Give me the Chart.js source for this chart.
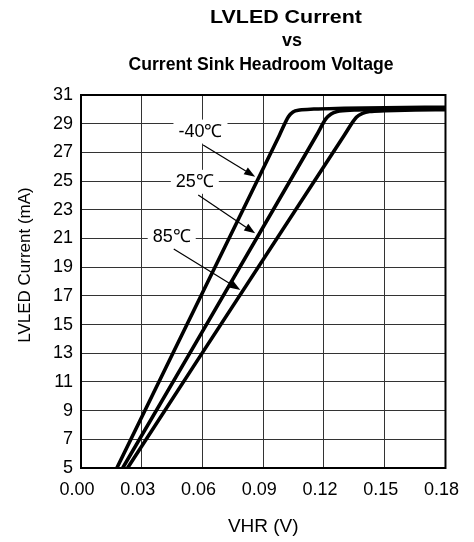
<!DOCTYPE html>
<html>
<head>
<meta charset="utf-8">
<script src="https://cdn.jsdelivr.net/npm/chart.js@4"></script>
<style>
  html, body { margin: 0; padding: 0; background: #fff; }
  #wrap { width: 474px; height: 542px; }
</style>
</head>
<body>
<div id="wrap"><canvas id="chart_lvled"></canvas></div>
<script>
// values (VHR in V, current in mA)
var vhr_m40 = [0.0177, 0.0980, 0.1025, 0.1047, 0.1080, 0.1150, 0.1300, 0.1500, 0.1800];
var ma_m40  = [5.00, 28.20, 29.50, 29.82, 29.95, 30.02, 30.07, 30.11, 30.15];

var vhr_25 = [0.0206, 0.1164, 0.1210, 0.1235, 0.1265, 0.1350, 0.1500, 0.1800];
var ma_25  = [5.00, 28.21, 29.35, 29.68, 29.85, 29.95, 30.00, 30.08];

var vhr_85 = [0.0230, 0.1301, 0.1360, 0.1390, 0.1425, 0.1500, 0.1650, 0.1800];
var ma_85  = [5.00, 28.21, 29.45, 29.72, 29.85, 29.90, 29.95, 29.98];

var seriesNames = ['-40℃', '25℃', '85℃'];

var xTicks = [0, 0.03, 0.06, 0.09, 0.12, 0.15, 0.18];
var yTicks = [5, 7, 9, 11, 13, 15, 17, 19, 21, 23, 25, 27, 29, 31];

var FONT = 'Liberation Sans, Arial, Helvetica, sans-serif';

function pts(xs, ys) {
    var out = [];
    for (var i = 0; i < xs.length; i++) out.push({x: xs[i], y: ys[i]});
    return out;
}

// callouts, in data units: label centre, arrow start, arrow tip
var notes = [
    {text: seriesNames[0], x: 0.0590, y: 28.45, fx: 0.0603, fy: 27.52, tx: 0.0860, ty: 25.31},
    {text: seriesNames[1], x: 0.0562, y: 24.95, fx: 0.0579, fy: 24.03, tx: 0.0860, ty: 21.36},
    {text: seriesNames[2], x: 0.0448, y: 21.10, fx: 0.0458, fy: 20.27, tx: 0.0787, ty: 17.41}
];

// title lines: text, centre x, centre y, width they take in the picture
var titleLines = [
    ['LVLED Current', 286, 18, 152],
    ['vs', 292, 41, 20],
    ['Current Sink Headroom Voltage', 261, 65, 265]
];

var calloutPlugin = {
    id: 'callouts',
    beforeDatasetsDraw: function(chart) {
        var c = chart.ctx, sx = chart.scales.x, sy = chart.scales.y;
        c.save();
        c.font = '18px ' + FONT;
        c.textAlign = 'center';
        c.textBaseline = 'middle';
        notes.forEach(function(n) {
            var px = sx.getPixelForValue(n.x), py = sy.getPixelForValue(n.y);
            var w = c.measureText(n.text).width + 10;
            c.fillStyle = '#fff';
            c.fillRect(px - w / 2, py - 12, w, 24);
            c.fillStyle = '#000';
            c.fillText(n.text, px, py);

            // arrow
            var x1 = sx.getPixelForValue(n.fx), y1 = sy.getPixelForValue(n.fy);
            var x2 = sx.getPixelForValue(n.tx), y2 = sy.getPixelForValue(n.ty);
            var a = Math.atan2(y2 - y1, x2 - x1);
            var hl = 11, hw = 4;
            c.strokeStyle = '#000';
            c.lineWidth = 1.2;
            c.beginPath();
            c.moveTo(x1, y1);
            c.lineTo(x2 - hl * Math.cos(a), y2 - hl * Math.sin(a));
            c.stroke();
            c.beginPath();
            c.moveTo(x2, y2);
            c.lineTo(x2 - hl * Math.cos(a) + hw * Math.sin(a), y2 - hl * Math.sin(a) - hw * Math.cos(a));
            c.lineTo(x2 - hl * Math.cos(a) - hw * Math.sin(a), y2 - hl * Math.sin(a) + hw * Math.cos(a));
            c.closePath();
            c.fill();
        });
        c.restore();
    },
    afterDraw: function(chart) {
        var c = chart.ctx, ca = chart.chartArea;
        c.save();
        // frame round the plot
        c.strokeStyle = '#000';
        c.lineWidth = 2;
        c.strokeRect(ca.left, ca.top, ca.right - ca.left, ca.bottom - ca.top);

        // title, three lines
        c.fillStyle = '#000';
        c.textAlign = 'center';
        c.textBaseline = 'middle';
        c.font = 'bold 18px ' + FONT;
        titleLines.forEach(function(t) {
            var k = t[3] / c.measureText(t[0]).width;
            c.save();
            c.translate(t[1], t[2]);
            c.scale(k, 1);
            c.fillText(t[0], 0, 0);
            c.restore();
        });

        // y axis title
        c.font = '17px ' + FONT;
        c.translate(25, 265);
        c.rotate(-Math.PI / 2);
        c.fillText('LVLED Current (mA)', 0, 0);
        c.restore();
    }
};

function lineSet(label, xs, ys) {
    return {
        label: label,
        data: pts(xs, ys),
        borderColor: '#000',
        backgroundColor: '#000',
        borderWidth: 3.6,
        pointRadius: 0,
        cubicInterpolationMode: 'monotone',
        fill: false
    };
}

var ctx = document.getElementById('chart_lvled').getContext('2d');
var chart = new Chart(ctx, {
    type: 'line',
    data: {
        datasets: [
            lineSet(seriesNames[0], vhr_m40, ma_m40),
            lineSet(seriesNames[1], vhr_25, ma_25),
            lineSet(seriesNames[2], vhr_85, ma_85)
        ]
    },
    options: {
        responsive: true,
        maintainAspectRatio: false,
        animation: false,
        layout: { padding: {left: 0, right: 19, top: 95, bottom: 0} },
        plugins: {
            legend: { display: false },
            tooltip: { enabled: false },
            title: { display: false }
        },
        scales: {
            x: {
                type: 'linear',
                min: 0,
                max: 0.18,
                afterFit: function(s) { s.height = 74; },
                afterBuildTicks: function(s) { s.ticks = xTicks.map(function(v) { return {value: v}; }); },
                ticks: {
                    color: '#000',
                    padding: 11,
                    labelOffset: -4,
                    maxRotation: 0,
                    font: { family: FONT, size: 18 },
                    callback: function(v) { return Number(v).toFixed(2); }
                },
                grid: { color: '#333', lineWidth: 1, drawTicks: false },
                border: { display: false },
                title: {
                    display: true,
                    text: 'VHR (V)',
                    color: '#000',
                    font: { family: FONT, size: 19 },
                    padding: {top: 0, bottom: 4}
                }
            },
            y: {
                type: 'linear',
                min: 5,
                max: 31,
                afterFit: function(s) { s.width = 81; },
                afterBuildTicks: function(s) { s.ticks = yTicks.map(function(v) { return {value: v}; }); },
                ticks: {
                    color: '#000',
                    padding: 8,
                    font: { family: FONT, size: 18 }
                },
                grid: { color: '#333', lineWidth: 1, drawTicks: false },
                border: { display: false }
            }
        }
    },
    plugins: [calloutPlugin]
});
</script>
</body>
</html>
